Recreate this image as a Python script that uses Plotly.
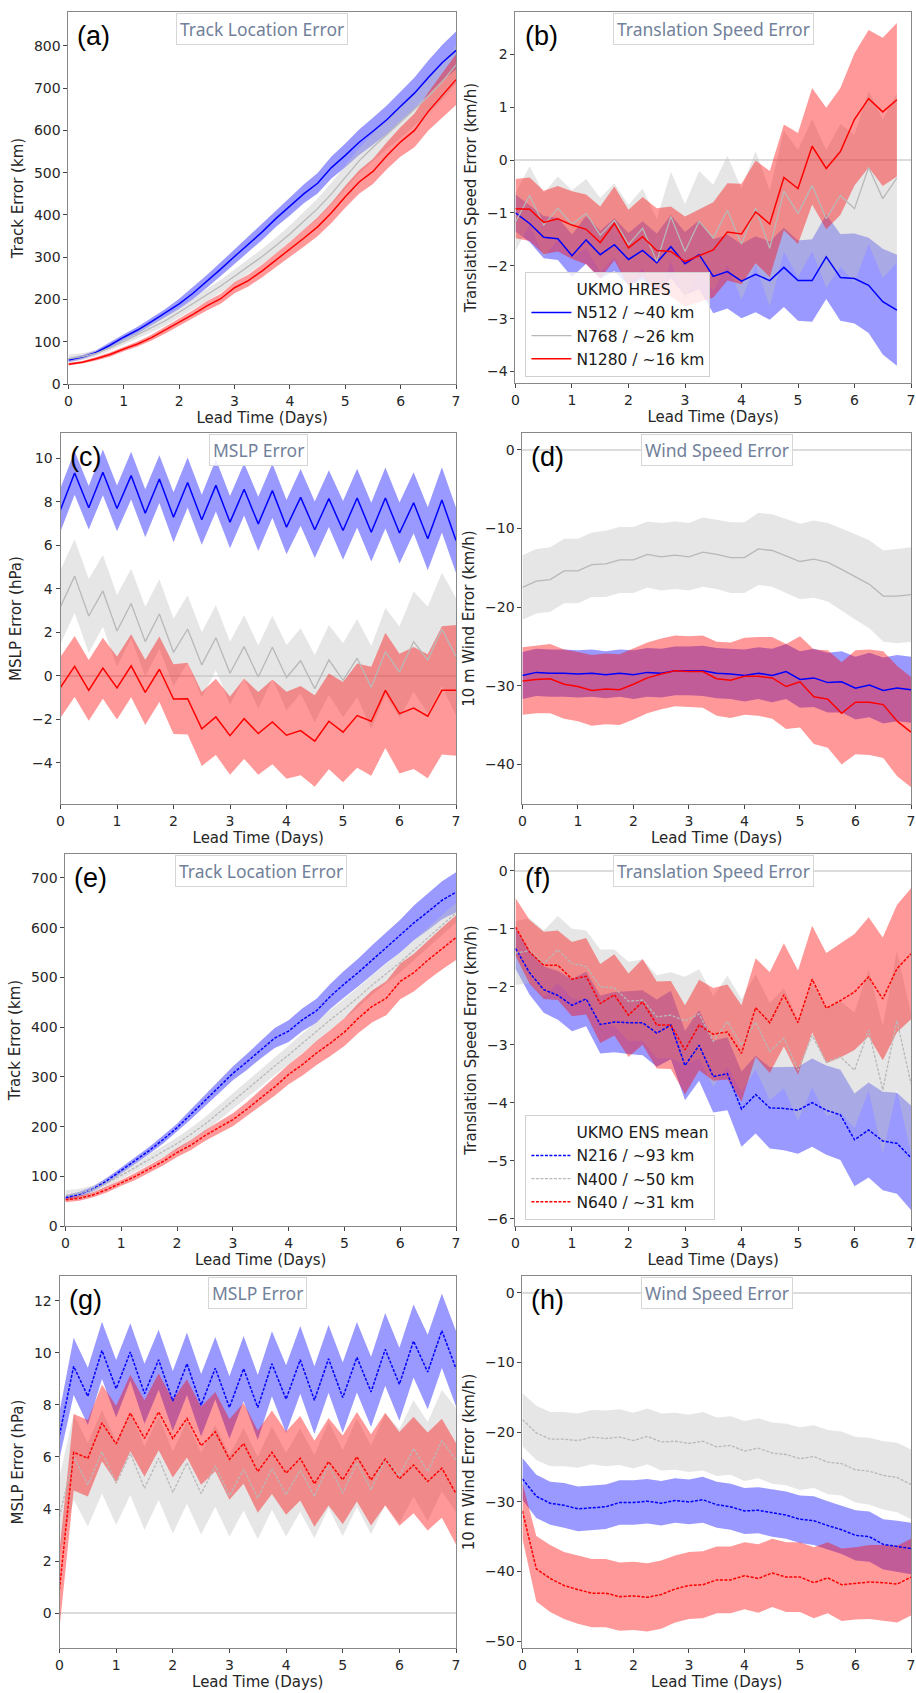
import plotly.graph_objects as go

W, H = 916, 1693

lead = [i * 0.25 for i in range(29)]          # 0 .. 7 days
lead_b = lead[:28]                             # panel (b) stops at 6.75

# ---------------- (a) HRES track location error (km)
a_n512 = [57, 64, 75, 92, 111, 128, 148, 168, 190, 215, 243, 272, 302, 330, 360, 392, 420, 450, 475, 512, 541, 572, 598, 625, 657, 688, 725, 760, 789]
a_n512_sd = [5, 5, 5, 6, 7, 8, 9, 10, 12, 14, 15, 16, 17, 18, 19, 20, 21, 22, 24, 26, 28, 30, 32, 34, 35, 37, 40, 42, 45]
a_n768 = [60, 65, 73, 86, 101, 117, 133, 150, 170, 190, 210, 232, 255, 278, 302, 328, 355, 385, 415, 450, 490, 528, 560, 590, 618, 648, 680, 715, 755]
a_n768_sd = [10, 8, 7, 7, 8, 9, 10, 11, 12, 13, 14, 15, 16, 17, 18, 19, 20, 22, 24, 26, 28, 30, 32, 34, 36, 38, 40, 42, 45]
a_n1280 = [47, 52, 60, 70, 83, 95, 110, 128, 147, 165, 185, 202, 228, 245, 268, 293, 318, 345, 372, 405, 443, 478, 503, 540, 573, 600, 645, 683, 720]
a_n1280_sd = [3, 3, 4, 5, 5, 6, 7, 8, 9, 10, 11, 12, 13, 14, 15, 16, 18, 20, 22, 24, 26, 28, 30, 32, 35, 40, 45, 52, 60]

# ---------------- (b) HRES translation speed error (km/h)
b_n512 = [-1.0, -1.2, -1.46, -1.49, -1.81, -1.51, -1.79, -1.6, -1.88, -1.71, -1.94, -1.64, -1.96, -1.79, -2.2, -2.11, -2.29, -2.16, -2.28, -2.03, -2.28, -2.28, -1.83, -2.22, -2.24, -2.37, -2.68, -2.84]
b_n512_sd = [0.35, 0.35, 0.4, 0.4, 0.4, 0.45, 0.45, 0.5, 0.5, 0.55, 0.55, 0.6, 0.6, 0.65, 0.7, 0.7, 0.7, 0.72, 0.74, 0.75, 0.76, 0.78, 0.8, 0.82, 0.85, 0.9, 1.0, 1.05]
b_n768 = [-1.17, -0.67, -1.23, -0.91, -1.22, -1.01, -1.42, -1.14, -1.6, -1.29, -1.92, -1.07, -1.73, -1.16, -1.47, -0.95, -1.59, -0.91, -1.67, -0.59, -1.01, -0.48, -1.11, -0.67, -0.92, -0.14, -0.73, -0.34]
b_n768_sd = [0.55, 0.55, 0.6, 0.6, 0.65, 0.65, 0.7, 0.7, 0.75, 0.75, 0.8, 0.85, 0.9, 0.95, 1.0, 1.03, 1.05, 1.08, 1.1, 1.15, 1.2, 1.25, 1.3, 1.35, 1.4, 1.45, 1.5, 1.6]
b_n1280 = [-0.92, -0.93, -1.18, -1.11, -1.23, -1.31, -1.56, -1.2, -1.66, -1.45, -1.71, -1.73, -1.92, -1.81, -1.7, -1.36, -1.4, -0.98, -1.21, -0.33, -0.54, 0.26, -0.16, 0.16, 0.77, 1.16, 0.91, 1.14]
b_n1280_sd = [0.56, 0.6, 0.6, 0.62, 0.64, 0.66, 0.68, 0.7, 0.72, 0.75, 0.8, 0.85, 0.85, 0.88, 0.9, 0.92, 0.95, 0.97, 1.0, 1.0, 1.05, 1.1, 1.15, 1.2, 1.25, 1.3, 1.4, 1.45]

# ---------------- (c) HRES MSLP error (hPa)
c_n512 = [7.63, 9.32, 7.72, 9.35, 7.69, 9.2, 7.47, 9.04, 7.29, 8.88, 7.17, 8.75, 7.06, 8.57, 6.98, 8.51, 6.83, 8.2, 6.71, 8.14, 6.68, 8.17, 6.6, 8.17, 6.56, 7.95, 6.3, 8.08, 6.22]
c_n512_sd = [1.0, 1.0, 1.0, 1.05, 1.05, 1.1, 1.1, 1.1, 1.15, 1.15, 1.15, 1.2, 1.2, 1.2, 1.25, 1.25, 1.25, 1.3, 1.3, 1.3, 1.35, 1.35, 1.35, 1.4, 1.4, 1.4, 1.45, 1.5, 1.5]
c_n768 = [3.17, 4.58, 2.75, 3.9, 2.06, 3.32, 1.57, 2.84, 1.08, 2.15, 0.5, 1.75, 0.12, 1.34, -0.06, 1.31, -0.08, 0.69, -0.59, 0.73, -0.21, 0.81, -0.53, 1.11, 0.17, 1.57, 0.73, 2.14, 0.88]
c_n768_sd = [1.7, 1.7, 1.7, 1.65, 1.65, 1.6, 1.6, 1.6, 1.55, 1.55, 1.5, 1.5, 1.45, 1.45, 1.45, 1.45, 1.5, 1.5, 1.55, 1.6, 1.7, 1.8, 1.9, 2.0, 2.1, 2.3, 2.45, 2.6, 2.7]
c_n1280 = [-0.53, 0.43, -0.67, 0.35, -0.56, 0.46, -0.76, 0.3, -1.07, -1.05, -2.44, -1.89, -2.75, -1.97, -2.65, -2.12, -2.73, -2.52, -3.0, -2.09, -2.59, -1.83, -2.09, -0.67, -1.74, -1.48, -1.86, -0.67, -0.67]
c_n1280_sd = [1.4, 1.4, 1.4, 1.4, 1.45, 1.45, 1.5, 1.5, 1.6, 1.65, 1.7, 1.75, 1.8, 1.85, 1.9, 1.95, 2.0, 2.05, 2.1, 2.2, 2.3, 2.4, 2.5, 2.65, 2.75, 2.8, 2.85, 2.95, 3.0]

# ---------------- (d) HRES 10 m wind error (km/h)
d_n512 = [-28.7, -28.3, -28.4, -28.4, -28.5, -28.4, -28.6, -28.4, -28.6, -28.3, -28.4, -28.1, -28.1, -28.1, -28.4, -28.5, -28.7, -28.4, -28.7, -28.2, -29.2, -29.0, -29.6, -29.5, -30.3, -29.9, -30.6, -30.3, -30.5]
d_n512_sd = [3.0, 3.0, 3.0, 3.0, 3.0, 3.0, 3.0, 3.0, 3.1, 3.1, 3.1, 3.1, 3.1, 3.2, 3.2, 3.2, 3.3, 3.3, 3.4, 3.5, 3.6, 3.7, 3.8, 3.9, 4.0, 4.1, 4.2, 4.2, 4.2]
d_n768 = [-17.5, -16.7, -16.5, -15.4, -15.4, -14.6, -14.5, -14.0, -14.0, -13.3, -13.6, -13.4, -13.6, -13.0, -13.3, -13.7, -13.7, -12.6, -12.8, -13.5, -14.2, -13.9, -14.3, -15.2, -16.2, -17.1, -18.6, -18.6, -18.4]
d_n768_sd = [4.1, 4.1, 4.1, 4.1, 4.1, 4.1, 4.2, 4.2, 4.2, 4.2, 4.3, 4.3, 4.3, 4.4, 4.4, 4.5, 4.5, 4.6, 4.6, 4.7, 4.8, 4.9, 5.0, 5.2, 5.4, 5.6, 5.8, 6.0, 6.0]
d_n1280 = [-29.4, -29.2, -29.1, -29.8, -30.1, -30.6, -30.4, -30.5, -29.8, -29.0, -28.5, -28.1, -28.2, -28.2, -29.1, -29.3, -28.8, -28.8, -29.0, -30.1, -29.5, -31.4, -31.7, -33.5, -32.1, -32.1, -32.4, -34.5, -35.9]
d_n1280_sd = [4.3, 4.3, 4.4, 4.4, 4.4, 4.5, 4.5, 4.5, 4.5, 4.5, 4.5, 4.5, 4.5, 4.6, 4.7, 4.8, 4.9, 5.0, 5.2, 5.4, 5.8, 6.0, 6.2, 6.5, 6.6, 6.7, 6.8, 7.0, 7.0]

# ---------------- (e) ENS track location error (km)
e_n216 = [57, 64, 75, 92, 112, 132, 152, 174, 198, 225, 252, 280, 307, 330, 355, 378, 392, 415, 433, 462, 487, 510, 535, 560, 583, 610, 632, 655, 671]
e_n216_sd = [5, 5, 5, 6, 6, 7, 7, 8, 8, 10, 11, 12, 14, 16, 18, 20, 22, 23, 24, 25, 27, 28, 30, 31, 33, 35, 37, 38, 40]
e_n400 = [62, 66, 74, 87, 102, 118, 134, 150, 166, 185, 205, 228, 251, 275, 298, 322, 344, 368, 392, 415, 437, 460, 485, 508, 530, 555, 580, 605, 630]
e_n400_sd = [10, 9, 8, 8, 8, 9, 10, 11, 12, 13, 14, 15, 16, 17, 18, 18, 19, 19, 20, 20, 20, 20, 20, 20, 20, 20, 20, 20, 20]
e_n640 = [53, 56, 63, 74, 87, 100, 115, 130, 148, 163, 182, 198, 214, 235, 258, 280, 305, 325, 348, 368, 390, 418, 442, 458, 492, 510, 535, 558, 580]
e_n640_sd = [5, 5, 5, 6, 6, 7, 7, 8, 9, 10, 11, 12, 13, 14, 16, 18, 20, 22, 24, 26, 28, 30, 32, 34, 36, 38, 40, 42, 45]

# ---------------- (f) ENS translation speed error (km/h)
f_n216 = [-1.34, -1.76, -2.05, -2.15, -2.32, -2.21, -2.65, -2.61, -2.62, -2.62, -2.8, -2.66, -3.36, -3.01, -3.55, -3.5, -4.11, -3.86, -4.09, -4.1, -4.13, -4.0, -4.13, -4.21, -4.64, -4.47, -4.66, -4.7, -4.95]
f_n216_sd = [0.35, 0.38, 0.4, 0.42, 0.45, 0.47, 0.5, 0.52, 0.54, 0.56, 0.58, 0.59, 0.6, 0.61, 0.62, 0.63, 0.65, 0.67, 0.7, 0.72, 0.75, 0.76, 0.77, 0.78, 0.8, 0.82, 0.85, 0.87, 0.9]
f_n400 = [-1.42, -1.38, -1.6, -1.36, -1.6, -1.65, -2.0, -2.02, -2.25, -2.23, -2.52, -2.49, -2.59, -2.47, -2.94, -2.6, -3.01, -2.61, -3.12, -2.89, -3.44, -2.84, -3.3, -3.21, -3.44, -2.75, -3.78, -2.58, -3.67]
f_n400_sd = [0.55, 0.56, 0.57, 0.58, 0.6, 0.62, 0.64, 0.66, 0.68, 0.7, 0.72, 0.74, 0.76, 0.77, 0.78, 0.79, 0.8, 0.82, 0.84, 0.86, 0.88, 0.9, 0.93, 0.96, 1.0, 1.05, 1.1, 1.2, 1.2]
f_n640 = [-0.97, -1.4, -1.63, -1.63, -1.87, -1.82, -2.29, -2.14, -2.49, -2.26, -2.66, -2.66, -3.09, -2.66, -2.82, -2.78, -3.15, -2.36, -2.62, -2.14, -2.62, -1.87, -2.37, -2.24, -2.09, -1.83, -2.21, -1.69, -1.43]
f_n640_sd = [0.5, 0.55, 0.58, 0.6, 0.64, 0.66, 0.68, 0.7, 0.72, 0.74, 0.75, 0.76, 0.77, 0.78, 0.8, 0.82, 0.83, 0.85, 0.87, 0.89, 0.9, 0.92, 0.95, 0.98, 1.0, 1.03, 1.06, 1.1, 1.13]

# ---------------- (g) ENS MSLP error (hPa)
g_n216 = [6.84, 9.48, 8.33, 10.09, 8.62, 10.03, 8.43, 9.73, 8.15, 9.58, 7.99, 9.41, 7.9, 9.39, 7.9, 9.58, 8.22, 9.73, 8.18, 9.77, 8.28, 9.83, 8.5, 10.13, 8.79, 10.45, 9.26, 10.85, 9.39]
g_n216_sd = [0.9, 1.1, 1.1, 1.1, 1.1, 1.1, 1.15, 1.15, 1.15, 1.2, 1.2, 1.2, 1.2, 1.25, 1.25, 1.25, 1.3, 1.3, 1.3, 1.3, 1.35, 1.35, 1.35, 1.4, 1.4, 1.4, 1.43, 1.43, 1.45]
g_n400 = [3.72, 6.01, 4.93, 6.2, 4.99, 6.14, 4.8, 5.95, 4.64, 5.78, 4.59, 5.66, 4.51, 5.53, 4.42, 5.57, 4.55, 5.5, 4.48, 5.69, 4.61, 5.78, 4.74, 5.91, 5.27, 6.33, 5.44, 6.62, 5.89]
g_n400_sd = [1.5, 1.65, 1.6, 1.6, 1.6, 1.6, 1.6, 1.6, 1.58, 1.58, 1.57, 1.57, 1.57, 1.58, 1.58, 1.6, 1.6, 1.6, 1.6, 1.65, 1.65, 1.7, 1.7, 1.75, 1.8, 1.85, 1.9, 1.95, 2.0]
g_n640 = [0.92, 6.18, 5.95, 7.31, 6.5, 7.69, 6.71, 7.73, 6.71, 7.48, 6.43, 6.97, 5.91, 6.52, 5.44, 6.18, 5.38, 5.95, 4.97, 5.82, 5.12, 6.01, 5.12, 5.92, 5.16, 5.69, 5.06, 5.57, 4.59]
g_n640_sd = [1.5, 1.47, 1.47, 1.47, 1.47, 1.47, 1.47, 1.47, 1.5, 1.5, 1.5, 1.52, 1.55, 1.55, 1.58, 1.6, 1.6, 1.62, 1.65, 1.68, 1.7, 1.72, 1.75, 1.78, 1.8, 1.85, 1.88, 1.9, 1.95]

# ---------------- (h) ENS 10 m wind error (km/h)
h_n216 = [-26.7, -29.2, -30.2, -30.5, -31.0, -30.8, -30.7, -30.1, -30.1, -29.9, -30.2, -29.8, -30.0, -29.7, -30.4, -30.7, -31.3, -31.2, -31.6, -31.9, -32.5, -32.7, -33.4, -34.0, -34.8, -35.0, -36.1, -36.4, -36.7]
h_n216_sd = [3.0, 3.1, 3.1, 3.2, 3.2, 3.2, 3.2, 3.2, 3.2, 3.2, 3.2, 3.2, 3.2, 3.3, 3.3, 3.3, 3.3, 3.3, 3.4, 3.4, 3.4, 3.5, 3.5, 3.5, 3.6, 3.6, 3.6, 3.7, 3.7]
h_n400 = [-18.2, -20.1, -21.0, -21.0, -21.2, -20.7, -20.9, -20.7, -21.2, -20.6, -21.4, -21.3, -21.6, -21.3, -22.1, -21.9, -22.7, -22.3, -23.0, -23.2, -23.8, -23.5, -24.3, -24.5, -25.4, -25.6, -26.2, -26.5, -27.5]
h_n400_sd = [3.8, 3.9, 3.9, 3.9, 3.9, 3.9, 4.0, 4.0, 4.0, 4.0, 4.1, 4.1, 4.1, 4.2, 4.2, 4.2, 4.3, 4.3, 4.4, 4.4, 4.5, 4.5, 4.6, 4.6, 4.7, 4.8, 4.9, 5.0, 5.0]
h_n640 = [-31.3, -39.6, -41.0, -42.0, -42.6, -43.1, -43.1, -43.6, -43.5, -43.7, -43.3, -42.5, -42.0, -41.9, -41.2, -41.2, -40.6, -41.0, -40.2, -40.8, -40.8, -41.6, -40.9, -41.9, -41.7, -41.5, -41.6, -41.8, -40.8]
h_n640_sd = [4.0, 4.7, 4.8, 4.8, 4.9, 4.9, 4.9, 4.9, 4.9, 4.9, 4.9, 4.8, 4.8, 4.8, 4.8, 4.8, 4.8, 4.9, 4.9, 5.0, 5.0, 5.1, 5.1, 5.2, 5.2, 5.3, 5.4, 5.5, 5.5]

hres_names = ["N512 / ~40 km", "N768 / ~26 km", "N1280 / ~16 km"]
ens_names = ["N216 / ~93 km", "N400 / ~50 km", "N640 / ~31 km"]
panel_titles = ["Track Location Error", "Translation Speed Error", "MSLP Error", "Wind Speed Error"] * 2
panel_labels = ["(a)", "(b)", "(c)", "(d)", "(e)", "(f)", "(g)", "(h)"]
y_titles = ["Track Error (km)", "Translation Speed Error (km/h)", "MSLP Error (hPa)", "10 m Wind Error (km/h)"] * 2

panels = [
    (lead, [(a_n512, a_n512_sd), (a_n768, a_n768_sd), (a_n1280, a_n1280_sd)]),
    (lead_b, [(b_n512, b_n512_sd), (b_n768, b_n768_sd), (b_n1280, b_n1280_sd)]),
    (lead, [(c_n512, c_n512_sd), (c_n768, c_n768_sd), (c_n1280, c_n1280_sd)]),
    (lead, [(d_n512, d_n512_sd), (d_n768, d_n768_sd), (d_n1280, d_n1280_sd)]),
    (lead, [(e_n216, e_n216_sd), (e_n400, e_n400_sd), (e_n640, e_n640_sd)]),
    (lead, [(f_n216, f_n216_sd), (f_n400, f_n400_sd), (f_n640, f_n640_sd)]),
    (lead, [(g_n216, g_n216_sd), (g_n400, g_n400_sd), (g_n640, g_n640_sd)]),
    (lead, [(h_n216, h_n216_sd), (h_n400, h_n400_sd), (h_n640, h_n640_sd)]),
]

# layout constants (pixels)
boxes = [  # left, right, top, bottom
    (65, 456, 12, 386), (516, 915, 12, 385),
    (57, 456, 435, 808), (523, 915, 435, 808),
    (62, 456, 858, 1232), (516, 915, 858, 1232),
    (56, 456, 1282, 1656), (523, 915, 1282, 1656),
]
y_ranges = [[0, 880], [-4.22, 2.8], [-5.9, 11.16], [-45.06, 2.15],
            [0, 748], [-6.13, 0.29], [-1.34, 12.95], [-51, 2.43]]
y_dticks = [100, 1, 2, 10, 100, 1, 2, 10]
zero_line = [False, True, True, True, False, True, True, True]

line_cols = ["#0000ff", "#b8b8b8", "#ff0000"]
band_cols = ["rgba(0,0,255,0.4)", "rgba(192,192,192,0.4)", "rgba(255,0,0,0.4)"]

FONT = "DejaVu Sans"
fig = go.Figure()

for p, (xs, series) in enumerate(panels):
    ax = "" if p == 0 else str(p + 1)
    ens = p >= 4
    names = ens_names if ens else hres_names
    legend_id = "legend2" if p == 5 else "legend"
    # bands first
    for s, (mean, sd) in enumerate(series):
        hi = [m + d for m, d in zip(mean, sd)]
        lo = [m - d for m, d in zip(mean, sd)]
        fig.add_trace(go.Scatter(
            x=list(xs) + list(xs)[::-1], y=hi + lo[::-1], fill="toself",
            fillcolor=band_cols[s], line=dict(width=0), mode="lines",
            showlegend=False, hoverinfo="skip", xaxis="x" + ax, yaxis="y" + ax))
    if p in (1, 5):
        fig.add_trace(go.Scatter(
            x=[None], y=[None], mode="lines", name="UKMO ENS mean" if ens else "UKMO HRES",
            line=dict(color="rgba(0,0,0,0)", width=1.5), xaxis="x" + ax, yaxis="y" + ax,
            legend=legend_id, showlegend=True, hoverinfo="skip"))
    # then lines on top
    for s, (mean, sd) in enumerate(series):
        fig.add_trace(go.Scatter(
            x=xs, y=mean, mode="lines", name=names[s],
            line=dict(color=line_cols[s], width=1.5 if s != 1 else 1.3,
                      dash="3px,1.5px" if ens else "solid"),
            showlegend=p in (1, 5), legend=legend_id,
            xaxis="x" + ax, yaxis="y" + ax))

layout = dict(
    width=W, height=H, margin=dict(l=0, r=0, t=0, b=0),
    paper_bgcolor="white", plot_bgcolor="white",
    font=dict(family=FONT, size=14, color="#262626"),
    showlegend=True,
)
annotations = []
for p, (l, r, t, b) in enumerate(boxes):
    ax = "" if p == 0 else str(p + 1)
    layout["xaxis" + ax] = dict(
        domain=[l / W, r / W], anchor="y" + ax, range=[0, 7], dtick=1, tick0=0,
        showgrid=False, zeroline=False, showline=True, linecolor="#888888", linewidth=1,
        mirror=True, ticks="outside", ticklen=4, tickcolor="#444444",
        tickfont=dict(size=14, family=FONT, color="#262626"),
        title=dict(text="Lead Time (Days)", font=dict(size=15, family=FONT, color="#262626"), standoff=4),
    )
    layout["yaxis" + ax] = dict(
        domain=[1 - b / H, 1 - t / H], anchor="x" + ax, range=y_ranges[p], dtick=y_dticks[p], tick0=0,
        showgrid=False, zeroline=zero_line[p], zerolinecolor="#dcdcdc", zerolinewidth=1.5,
        showline=True, linecolor="#888888", linewidth=1, mirror=True,
        ticks="outside", ticklen=4, tickcolor="#444444",
        tickfont=dict(size=14, family=FONT, color="#262626"),
        title=dict(text=y_titles[p], font=dict(size=15, family=FONT, color="#262626"), standoff=6),
    )
    annotations.append(dict(
        text=panel_labels[p], xref="x" + ax + " domain", yref="y" + ax + " domain",
        x=0.018, y=1 - 24 / (b - t), xanchor="left", yanchor="middle", showarrow=False,
        font=dict(family="Liberation Sans", size=27, color="black")))
    annotations.append(dict(
        text=panel_titles[p], xref="x" + ax + " domain", yref="y" + ax + " domain",
        x=0.5, y=1 - 17 / (b - t), xanchor="center", yanchor="middle", showarrow=False,
        font=dict(family="Noto Sans", size=17.5, color="#72819a"),
        bgcolor="rgba(255,255,255,0.85)", bordercolor="#d6d6d6", borderwidth=1, borderpad=3))
layout["annotations"] = annotations
layout["legend"] = dict(
    x=526 / W, y=1 - 273 / H, xanchor="left", yanchor="top",
    bgcolor="rgba(255,255,255,0.8)", bordercolor="#d0d0d0", borderwidth=1,
    font=dict(family=FONT, size=15.5, color="#1a1a1a"), tracegroupgap=0, itemwidth=40)
layout["legend2"] = dict(
    x=526 / W, y=1 - 1120 / H, xanchor="left", yanchor="top",
    bgcolor="rgba(255,255,255,0.8)", bordercolor="#d0d0d0", borderwidth=1,
    font=dict(family=FONT, size=15.5, color="#1a1a1a"), tracegroupgap=0, itemwidth=40)

fig.update_layout(**layout)
fig.write_html("out.html")
